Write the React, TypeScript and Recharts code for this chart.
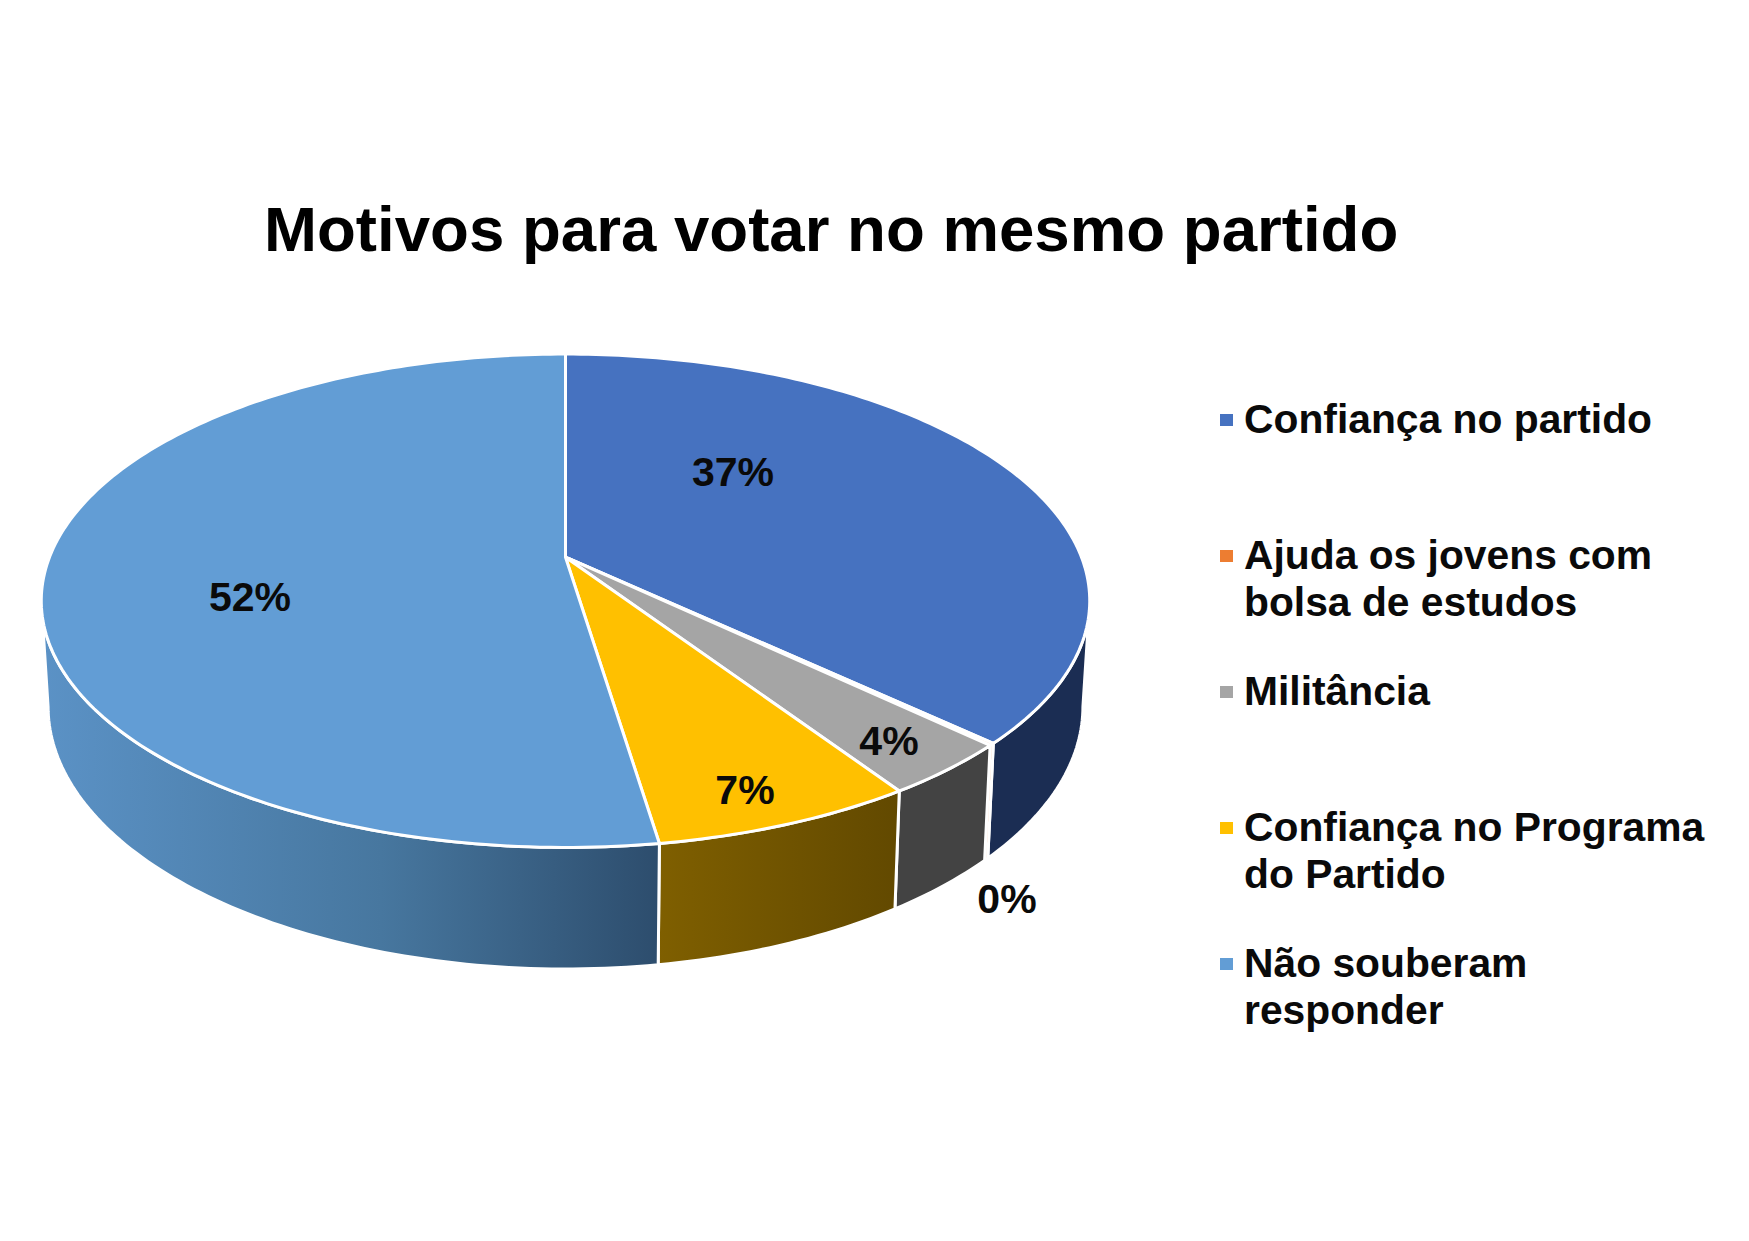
import { Legend, Pie, PieChart } from "recharts";

const categories = [
  "Confiança no partido",
  "Ajuda os jovens com bolsa de estudos",
  "Militância",
  "Confiança no Programa do Partido",
  "Não souberam responder",
];
const shares = [37, 0.15, 3.55, 6.9, 52.4];
const topColors = ["#4672C0", "#ED7D31", "#A5A5A5", "#FFC000", "#629DD5"];
const wallFills = ["#1B2D53", "#ED7D31", "#434343", "url(#wallGold)", "url(#wallBlue)"];

const data = categories.map((name, i) => ({ name, value: shares[i], fill: topColors[i] }));

// onde cada rótulo fica na imagem (layout, não dados)
const labelSpots = [
  [733, 472],
  [1007, 899],
  [889, 741],
  [745, 790],
  [250, 597],
];

// perspectiva: o círculo vira elipse com o centro deslocado
const CX = 565.5;
const CY = 557.2;
const RX = 516;
const SQUASH = 239 / 516;
const K = 0.1765;
const LOWER_DY = 103;
const LOWER_SX = 0.987;
const LOWER_SY = 1.064;
const WALL_FROM = (Math.acos(-K) * 180) / Math.PI;
const WALL_TO = 360 - WALL_FROM;

function project(cx: number, cy: number, r: number, deg: number, sx = 1, sy = 1, dy = 0) {
  const t = (deg * Math.PI) / 180;
  const u = Math.sin(t);
  const v = -Math.cos(t);
  const d = 1 - K * v;
  return [cx + (r * sx * u) / d, cy + dy + (r * SQUASH * sy * v) / d];
}

function arcPoints(from: number, to: number, fn: (deg: number) => number[]) {
  const n = Math.max(2, Math.ceil(Math.abs(to - from)));
  const pts: string[] = [];
  for (let i = 0; i <= n; i++) {
    const p = fn(from + ((to - from) * i) / n);
    pts.push(`${p[0].toFixed(2)} ${p[1].toFixed(2)}`);
  }
  return pts;
}

function Slice3D(props: any) {
  const { cx, cy, outerRadius, startAngle, endAngle, fill, index } = props;
  const a = 90 - startAngle;
  const b = 90 - endAngle;
  const top = arcPoints(a, b, (d) => project(cx, cy, outerRadius, d));
  const from = Math.max(a, WALL_FROM);
  const to = Math.min(b, WALL_TO);
  let wall = null;
  if (to > from) {
    const upper = arcPoints(from, to, (d) => project(cx, cy, outerRadius, d));
    const lower = arcPoints(to, from, (d) => project(cx, cy, outerRadius, d, LOWER_SX, LOWER_SY, LOWER_DY));
    wall = (
      <path
        d={`M${upper.join("L")}L${lower.join("L")}Z`}
        fill={wallFills[index]}
        stroke="#fff"
        strokeWidth={3}
        strokeLinejoin="round"
      />
    );
  }
  return (
    <g>
      {wall}
      <path d={`M${cx} ${cy}L${top.join("L")}Z`} fill={fill} stroke="#fff" strokeWidth={3} strokeLinejoin="round" />
    </g>
  );
}

function renderLabel(props: any) {
  const { index, value } = props;
  const [x, y] = labelSpots[index];
  return (
    <text
      key={index}
      x={x}
      y={y}
      textAnchor="middle"
      dominantBaseline="central"
      fontFamily="'Liberation Sans', Arial, sans-serif"
      fontWeight="bold"
      fontSize={41}
      fill="#0a0a0a"
    >
      {Math.round(value)}%
    </text>
  );
}

function LegendList({ payload }: any) {
  return (
    <div>
      {(payload || []).map((item: any) => (
        <div key={item.value} style={{ position: "relative", height: 136, paddingLeft: 24, boxSizing: "border-box" }}>
          <span
            style={{
              position: "absolute",
              left: 0,
              top: 18,
              width: 13,
              height: 12,
              background: item.payload?.fill ?? item.color,
            }}
          />
          <div style={{ fontFamily: "'Liberation Sans', Arial, sans-serif", fontWeight: "bold", fontSize: 40.8, lineHeight: "46.5px", color: "#0a0a0a", width: 470 }}>
            {item.value}
          </div>
        </div>
      ))}
    </div>
  );
}

export default function App() {
  return (
    <div style={{ position: "absolute", left: 0, top: 0, width: 1749, height: 1241, background: "#fff" }}>
      <div
        style={{
          position: "absolute",
          left: 264,
          top: 193,
          fontFamily: "'Liberation Sans', Arial, sans-serif",
          fontWeight: "bold",
          fontSize: 63.6,
          lineHeight: "72px",
          color: "#000",
          whiteSpace: "nowrap",
        }}
      >
        Motivos para votar no mesmo partido
      </div>
      <PieChart width={1749} height={1241} margin={{ top: 0, right: 0, bottom: 0, left: 0 }}>
        <defs>
          <linearGradient id="wallBlue" x1="0" y1="0" x2="1" y2="0">
            <stop offset="0%" stopColor="#5B92C6" />
            <stop offset="55%" stopColor="#47779F" />
            <stop offset="100%" stopColor="#2D4D6D" />
          </linearGradient>
          <linearGradient id="wallGold" x1="0" y1="0" x2="1" y2="0">
            <stop offset="0%" stopColor="#7F5F00" />
            <stop offset="100%" stopColor="#624900" />
          </linearGradient>
        </defs>
        <Pie
          data={data}
          dataKey="value"
          nameKey="name"
          cx={CX}
          cy={CY}
          innerRadius={0}
          outerRadius={RX}
          startAngle={90}
          endAngle={-270}
          stroke="#fff"
          shape={Slice3D}
          label={renderLabel}
          labelLine={false}
          isAnimationActive={false}
        />
        <Legend
          layout="vertical"
          align="right"
          verticalAlign="top"
          itemSorter={null}
          content={<LegendList />}
          wrapperStyle={{ position: "absolute", left: 1220, top: 396, width: 500 }}
        />
      </PieChart>
    </div>
  );
}
